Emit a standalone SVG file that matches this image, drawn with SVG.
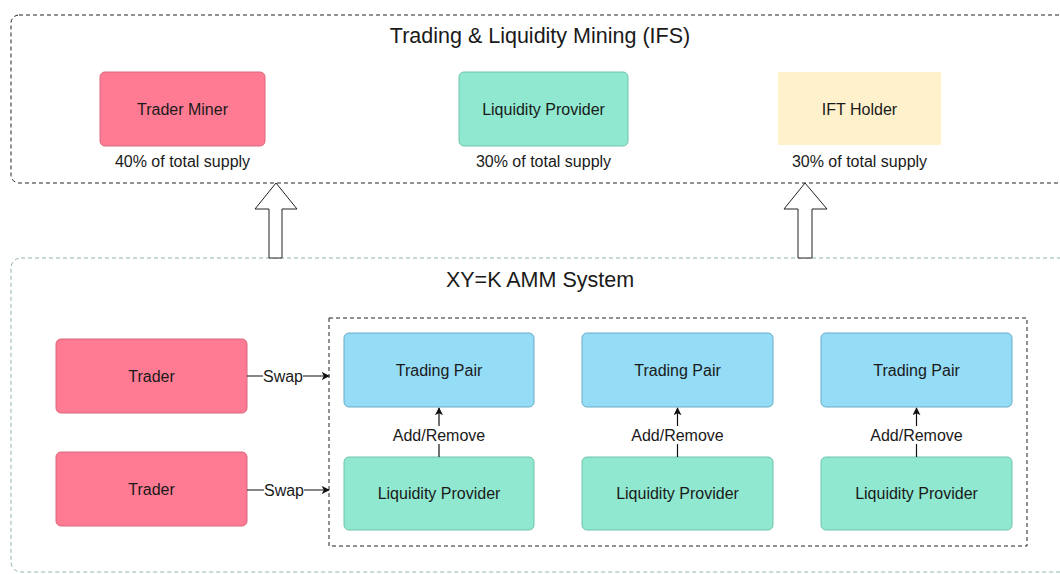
<svg xmlns="http://www.w3.org/2000/svg" width="1060" height="574" viewBox="0 0 1060 574">
<defs>
<style>
.t{font-family:"Liberation Sans",Arial,sans-serif;fill:#1a1a1a;text-anchor:middle}
.lbl{font-size:16px}
.title{font-size:21.5px}
.pink{fill:#ff7a93;stroke:#d9687e;stroke-width:1}
.blue{fill:#95dcf6;stroke:#6aabc6;stroke-width:1}
.green{fill:#8fe8cf;stroke:#70c4aa;stroke-width:1}
.cream{fill:#fff1cc}
.edge{stroke:#111;stroke-width:1.2;fill:none}
</style>
<marker id="ah" viewBox="0 0 10 10" refX="9" refY="5" markerWidth="8" markerHeight="8" orient="auto" markerUnits="userSpaceOnUse">
<path d="M0,0 L10,5 L0,10 L2.5,5 z" fill="#111"/>
</marker>
</defs>
<rect width="1060" height="574" fill="#fff"/>

<g id="ifs-container">
<rect x="11" y="15" width="1070" height="168" rx="8" fill="none" stroke="#222" stroke-dasharray="4 3"/>
<text class="t title" x="540" y="43">Trading &amp; Liquidity Mining (IFS)</text>
</g>
<g id="trader-miner">
<rect class="pink" x="100" y="72" width="165" height="74" rx="5"/>
<text class="t lbl" x="182.5" y="114.5">Trader Miner</text>
<text class="t lbl" x="182.5" y="166.5">40% of total supply</text>
</g>
<g id="liquidity-provider-top">
<rect class="green" x="459" y="72" width="169" height="74" rx="5"/>
<text class="t lbl" x="543.5" y="114.5">Liquidity Provider</text>
<text class="t lbl" x="543.5" y="166.5">30% of total supply</text>
</g>
<g id="ift-holder">
<rect class="cream" x="778" y="72" width="163" height="73"/>
<text class="t lbl" x="859.5" y="114.5">IFT Holder</text>
<text class="t lbl" x="859.5" y="166.5">30% of total supply</text>
</g>

<g id="amm-container">
<rect x="11" y="258" width="1070" height="314" rx="10" fill="none" stroke="#8fb5aa" stroke-dasharray="4 3"/>
<text class="t title" x="540" y="287">XY=K AMM System</text>
</g>
<g id="pairs-container">
<rect x="329" y="318" width="698" height="228" fill="none" stroke="#222" stroke-dasharray="4 3"/>
</g>

<g id="trader-1">
<rect class="pink" x="56" y="339" width="191" height="74" rx="5"/>
<text class="t lbl" x="151.5" y="381.5">Trader</text>
</g>
<g id="trader-2">
<rect class="pink" x="56" y="452" width="191" height="74" rx="5"/>
<text class="t lbl" x="151.5" y="494.5">Trader</text>
</g>

<g id="pair-1">
<rect class="blue" x="344" y="333" width="190" height="74" rx="5"/>
<text class="t lbl" x="439" y="375.5">Trading Pair</text>
</g>
<g id="lp-1">
<rect class="green" x="344" y="457" width="190" height="73" rx="5"/>
<text class="t lbl" x="439" y="499">Liquidity Provider</text>
</g>
<g id="pair-2">
<rect class="blue" x="582" y="333" width="191" height="74" rx="5"/>
<text class="t lbl" x="677.5" y="375.5">Trading Pair</text>
</g>
<g id="lp-2">
<rect class="green" x="582" y="457" width="191" height="73" rx="5"/>
<text class="t lbl" x="677.5" y="499">Liquidity Provider</text>
</g>
<g id="pair-3">
<rect class="blue" x="821" y="333" width="191" height="74" rx="5"/>
<text class="t lbl" x="916.5" y="375.5">Trading Pair</text>
</g>
<g id="lp-3">
<rect class="green" x="821" y="457" width="191" height="73" rx="5"/>
<text class="t lbl" x="916.5" y="499">Liquidity Provider</text>
</g>

<g id="connectors">
<path d="M276,183 L297,209 L282,209 L282,258 L269,258 L269,209 L255,209 Z" fill="#fff" stroke="#222" stroke-width="1"/>
<path d="M805,183 L827,209 L812,209 L812,258 L798,258 L798,209 L784,209 Z" fill="#fff" stroke="#222" stroke-width="1"/>

<line class="edge" x1="247" y1="376" x2="329" y2="376" marker-end="url(#ah)"/>
<rect x="263" y="367" width="40" height="18" fill="#fff"/>
<text class="t lbl" x="283" y="382">Swap</text>
<line class="edge" x1="247" y1="490" x2="329" y2="490" marker-end="url(#ah)"/>
<rect x="264" y="481" width="40" height="18" fill="#fff"/>
<text class="t lbl" x="284" y="496">Swap</text>

<line class="edge" x1="439" y1="457" x2="439" y2="408" marker-end="url(#ah)"/>
<rect x="393" y="426" width="92" height="18" fill="#fff"/>
<text class="t lbl" x="439" y="441">Add/Remove</text>
<line class="edge" x1="677.5" y1="457" x2="677.5" y2="408" marker-end="url(#ah)"/>
<rect x="631.5" y="426" width="92" height="18" fill="#fff"/>
<text class="t lbl" x="677.5" y="441">Add/Remove</text>
<line class="edge" x1="916.5" y1="457" x2="916.5" y2="408" marker-end="url(#ah)"/>
<rect x="870.5" y="426" width="92" height="18" fill="#fff"/>
<text class="t lbl" x="916.5" y="441">Add/Remove</text>
</g>
</svg>
